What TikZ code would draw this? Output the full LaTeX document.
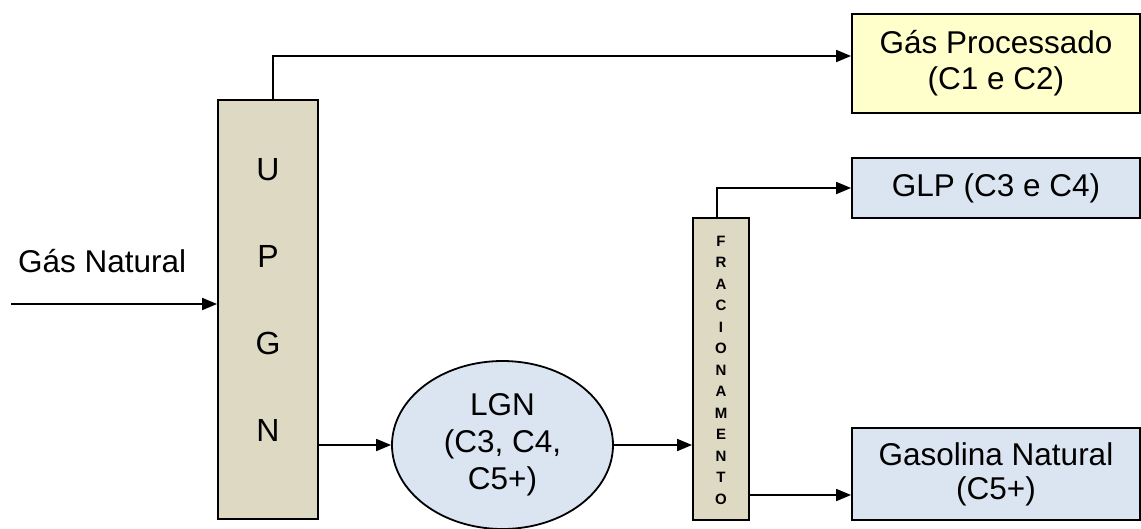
\documentclass[tikz,border=0pt]{standalone}
\usepackage{fontspec}
\setmainfont{Liberation Sans}
\usetikzlibrary{arrows.meta,shapes.geometric}
\definecolor{tan}{HTML}{DDD9C3}
\definecolor{paleyellow}{HTML}{FFFFCC}
\definecolor{paleblue}{HTML}{DBE5F1}
\tikzset{
  line/.style={line width=1.8pt},
  arr/.style={line, -{Triangle[length=15pt,width=12pt]}},
  box/.style={draw, line width=1.8pt, rectangle, inner sep=0pt, align=center},
  maintext/.style={font=\fontsize{31.5}{36}\selectfont, align=center},
}
\begin{document}
\begin{tikzpicture}[x=1pt,y=-1pt]
\useasboundingbox (0,0) rectangle (1141,528);
% UPGN column
\node[box, fill=tan, minimum width=100pt, minimum height=419pt] (upgn) at (268,309.5) {};
\node[maintext, font=\fontsize{32}{86.7}\selectfont] (upgntxt) at (268,300) {U\\P\\G\\N};
% Fracionamento column
\node[box, fill=tan, minimum width=56pt, minimum height=302pt] (frac) at (721,369) {};
\node[font=\bfseries\fontsize{15}{21.5}\selectfont, align=center] (fractxt) at (721,370)
  {F\\R\\A\\C\\I\\O\\N\\A\\M\\E\\N\\T\\O};
% LGN ellipse
\node[draw, line width=1.8pt, ellipse, fill=paleblue, minimum width=221pt, minimum height=168pt, inner sep=0pt,
      maintext, font=\fontsize{31.5}{37}\selectfont] (lgn) at (502.5,445) {LGN\\(C3, C4,\\C5+)};
% output boxes
\node[box, fill=paleyellow, minimum width=288pt, minimum height=99pt, maintext] (gp) at (996,63.5)
  {Gás Processado\\(C1 e C2)};
\node[box, fill=paleblue, minimum width=288pt, minimum height=60pt, maintext] (glp) at (996,188)
  {GLP (C3 e C4)};
\node[box, fill=paleblue, minimum width=288pt, minimum height=92pt, maintext, font=\fontsize{31.5}{34}\selectfont] (gas) at (996,474)
  {Gasolina Natural\\(C5+)};
% input label
\node[maintext, anchor=west, inner sep=0pt] (gn) at (18,261) {Gás Natural};
\coordinate (in) at (11,304);
\coordinate (topy) at (0,56);
\coordinate (boty) at (0,495);
% connectors
\draw[arr] (in) -- (in -| upgn.west);
\draw[arr] ([xshift=5pt]upgn.north) |- (gp.west |- topy);
\draw[arr] (upgn.east |- lgn) -- (lgn.west);
\draw[arr] (lgn.east) -- (frac.west |- lgn);
\draw[arr] ([xshift=-4pt]frac.north) |- (glp.west);
\draw[arr] (frac.east |- boty) -- (gas.west |- boty);
\end{tikzpicture}
\end{document}
